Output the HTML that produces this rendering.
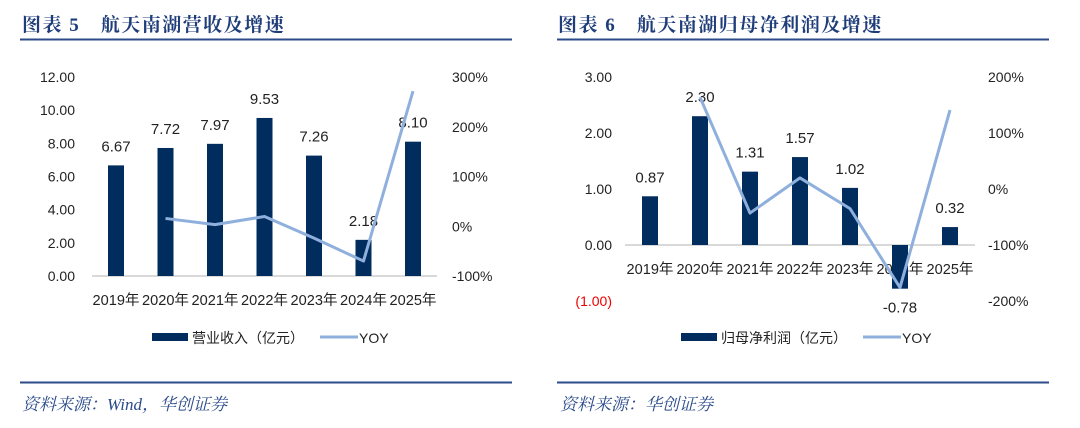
<!DOCTYPE html>
<html><head><meta charset="utf-8"><style>
body{margin:0;background:#fff;width:1080px;height:423px;overflow:hidden;font-family:"Liberation Sans","Noto Sans CJK SC",sans-serif}
svg text{font-family:"Liberation Sans","Noto Sans CJK SC",sans-serif}
.t{font-family:"Liberation Serif","Noto Serif CJK SC",serif;font-weight:bold;fill:#1f3d7a;font-size:19px;letter-spacing:1.5px}
.s{font-family:"Liberation Serif","Noto Serif CJK SC",serif;font-style:italic;fill:#2a4a8a;font-size:17px}
</style></head><body>
<svg id="c" width="1080" height="423">
<text class="t" x="22" y="31">图表 5　航天南湖营收及增速</text>
<line x1="20" y1="39.5" x2="512" y2="39.5" stroke="#2d4a8a" stroke-width="2"/>
<line x1="20" y1="382.5" x2="512" y2="382.5" stroke="#2d4a8a" stroke-width="2"/>
<text class="s" x="22" y="410">资料来源：Wind，华创证券</text>
<text class="t" x="558" y="31">图表 6　航天南湖归母净利润及增速</text>
<line x1="557" y1="39.5" x2="1049" y2="39.5" stroke="#2d4a8a" stroke-width="2"/>
<line x1="557" y1="382.5" x2="1049" y2="382.5" stroke="#2d4a8a" stroke-width="2"/>
<text class="s" x="560" y="410">资料来源：华创证券</text>
</svg>
<script>
const categories=["2019年","2020年","2021年","2022年","2023年","2024年","2025年"];
const revenue=[6.67,7.72,7.97,9.53,7.26,2.18,8.10];
const revenueYoy=[null,15.7,3.2,19.6,-23.8,-70.0,271.6];
const revTicks=["0.00","2.00","4.00","6.00","8.00","10.00","12.00"];
const revPctTicks=["-100%","0%","100%","200%","300%"];
const profit=[0.87,2.30,1.31,1.57,1.02,-0.78,0.32];
const profitYoy=[null,164,-43,19.8,-35,-176,141];
const profTicks=["(1.00)","0.00","1.00","2.00","3.00"];
const profPctTicks=["-200%","-100%","0%","100%","200%"];
const svg=document.getElementById('c');const NS="http://www.w3.org/2000/svg";
function mk(tag,attrs,txt){const e=document.createElementNS(NS,tag);for(const k in attrs)e.setAttribute(k,attrs[k]);if(txt!=null)e.textContent=txt;svg.appendChild(e);return e;}
function chart(o){
 const y=v=>o.y0-(v-o.vmin)*o.ppu, y2=v=>o.y0-(v-o.pmin)*o.ppp, x=i=>o.x0+i*o.step;
 o.ticks.forEach((t,i)=>{const v=o.vmin+i*o.tstep;const e=mk('text',{x:o.lx,y:y(v)+5,'text-anchor':'end','font-size':14,fill:t.startsWith('(')?'#e00':'#222'},t);
  });
 o.pticks.forEach((t,i)=>{const v=o.pmin+i*100;const e=mk('text',{x:o.rx,y:y2(v)+5,'font-size':14,fill:'#222'},t);
  });
 const base=y(0);
 const ax=mk('line',{x1:o.ax1,x2:o.ax2,y1:base,y2:base,stroke:'#d9d9d9','stroke-width':2});
 
 categories.forEach((c,i)=>{const e=mk('text',{x:x(i),y:o.catY,'text-anchor':'middle','font-size':14.5,fill:'#222',textLength:47,lengthAdjust:'spacingAndGlyphs'},c);
  });
 o.bars.forEach((v,i)=>{const top=Math.min(y(v),base),h=Math.abs(y(v)-base);
  const r=mk('rect',{x:x(i)-8,y:top,width:16,height:h,fill:'#002c5e'});
  
  const ly=v>=0?y(v)-14:y(v)+24;
  const l=mk('text',{x:x(i),y:ly,'text-anchor':'middle','font-size':15,fill:'#222'},v.toFixed(2));
  });
 const pts=[];o.yoy.forEach((v,i)=>{if(v!=null)pts.push(x(i)+','+y2(v));});
 const pl=mk('polyline',{points:pts.join(' '),fill:'none',stroke:'#8fb0dc','stroke-width':3,'stroke-linejoin':'round'});
 
 const sw=mk('rect',{x:o.legX,y:333,width:36,height:8,fill:'#002c5e'});
 
 const lt=mk('text',{x:o.legX+40,y:343,'font-size':14,fill:'#222'},o.legName);
 
 const ll=mk('line',{x1:o.legX2,x2:o.legX2+38,y1:337,y2:337,stroke:'#8fb0dc','stroke-width':3});
 
 const lt2=mk('text',{x:o.legX2+39,y:343,'font-size':14,fill:'#222'},'YOY');
 
}
chart({bars:revenue,yoy:revenueYoy,ticks:revTicks,pticks:revPctTicks,vmin:0,tstep:2,y0:276,ppu:199/12,pmin:-100,ppp:199/400,
 x0:116,step:49.5,lx:75,rx:452,ax1:92,ax2:437,catY:305,legX:152,legName:'营业收入（亿元）',legX2:320});
chart({bars:profit,yoy:profitYoy,ticks:profTicks,pticks:profPctTicks,vmin:-1,tstep:1,y0:301,ppu:56,pmin:-200,ppp:0.56,
 x0:650,step:50,lx:612,rx:988,ax1:625,ax2:975,catY:274,legX:681,legName:'归母净利润（亿元）',legX2:863});
</script>
</body></html>
